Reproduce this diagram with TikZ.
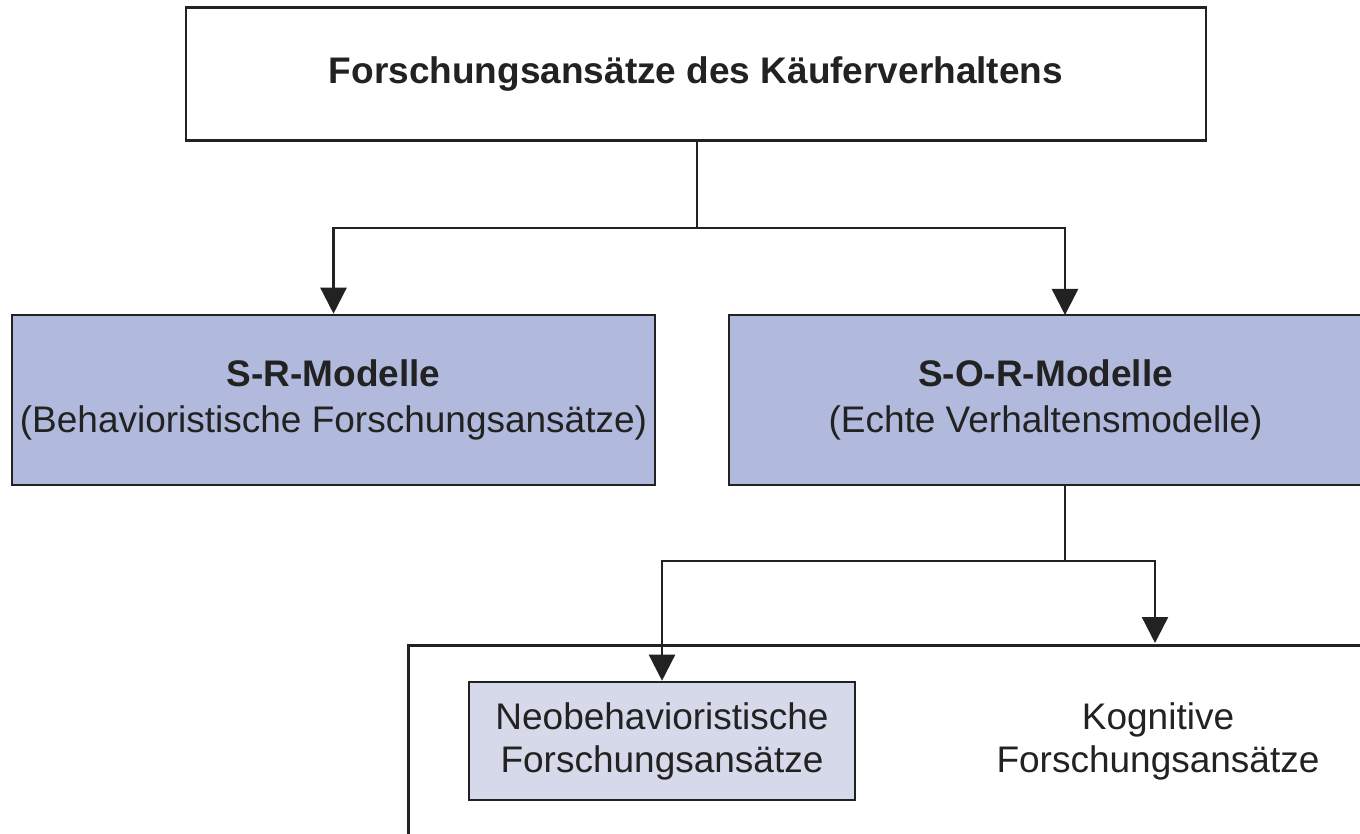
\documentclass[tikz,border=0pt]{standalone}
\usepackage{fontspec}
\setmainfont{Liberation Sans}
\usetikzlibrary{arrows.meta}
\definecolor{lav}{HTML}{B1BADC}
\definecolor{lavlight}{HTML}{D5D9EA}
\definecolor{ink}{HTML}{222222}
\begin{document}
\begin{tikzpicture}[x=1pt,y=-1pt,
  box/.style={draw=ink, line width=2.6pt, inner sep=0pt, align=center, text=ink,
    font=\fontsize{37}{46}\selectfont},
  small/.style={font=\fontsize{37}{43}\selectfont},
  conn/.style={draw=ink, line width=2.4pt},
  arr/.style={conn, -{Triangle[length=26pt,width=26pt]}}]
\useasboundingbox (0,0) rectangle (1360,834);
\clip (0,0) rectangle (1360,834);
\fill[white] (0,0) rectangle (1360,834);

\node[box, minimum width=1020pt, minimum height=133pt] (top) at (696,74)
  {\textbf{Forschungsansätze des Käuferverhaltens}};
\node[box, fill=lav, minimum width=643pt, minimum height=170pt] (sr) at (333.5,400)
  {\textbf{S-R-Modelle}\\(Behavioristische Forschungsansätze)};
\node[box, fill=lav, minimum width=633pt, minimum height=170pt] (sor) at (1045.5,400)
  {\textbf{S-O-R-Modelle}\\(Echte Verhaltensmodelle)};
\node[box, anchor=north west, minimum width=1000pt, minimum height=300pt] (big) at (407,644) {};
\node[box, small, fill=lavlight, minimum width=386pt, minimum height=118pt] (neo) at (662,741)
  {Neobehavioristische\\Forschungsansätze};
\node[align=center, text=ink, inner sep=0pt, small] (kog) at (1158,741)
  {Kognitive\\Forschungsansätze};

\coordinate (j1) at (697,228);
\coordinate (sorin) at (1065,315);
\coordinate (sorout) at (1065,485);
\coordinate (j2) at (1065,561);
\coordinate (kogin) at (1155,643);

\draw[conn] (top.south -| j1) -- (j1);
\draw[arr] (j1) -| (sr.north);
\draw[arr] (j1) -| (sorin);
\draw[conn] (sorout) -- (j2);
\draw[arr] (j2) -| (neo.north);
\draw[arr] (j2) -| (kogin);
\end{tikzpicture}
\end{document}
